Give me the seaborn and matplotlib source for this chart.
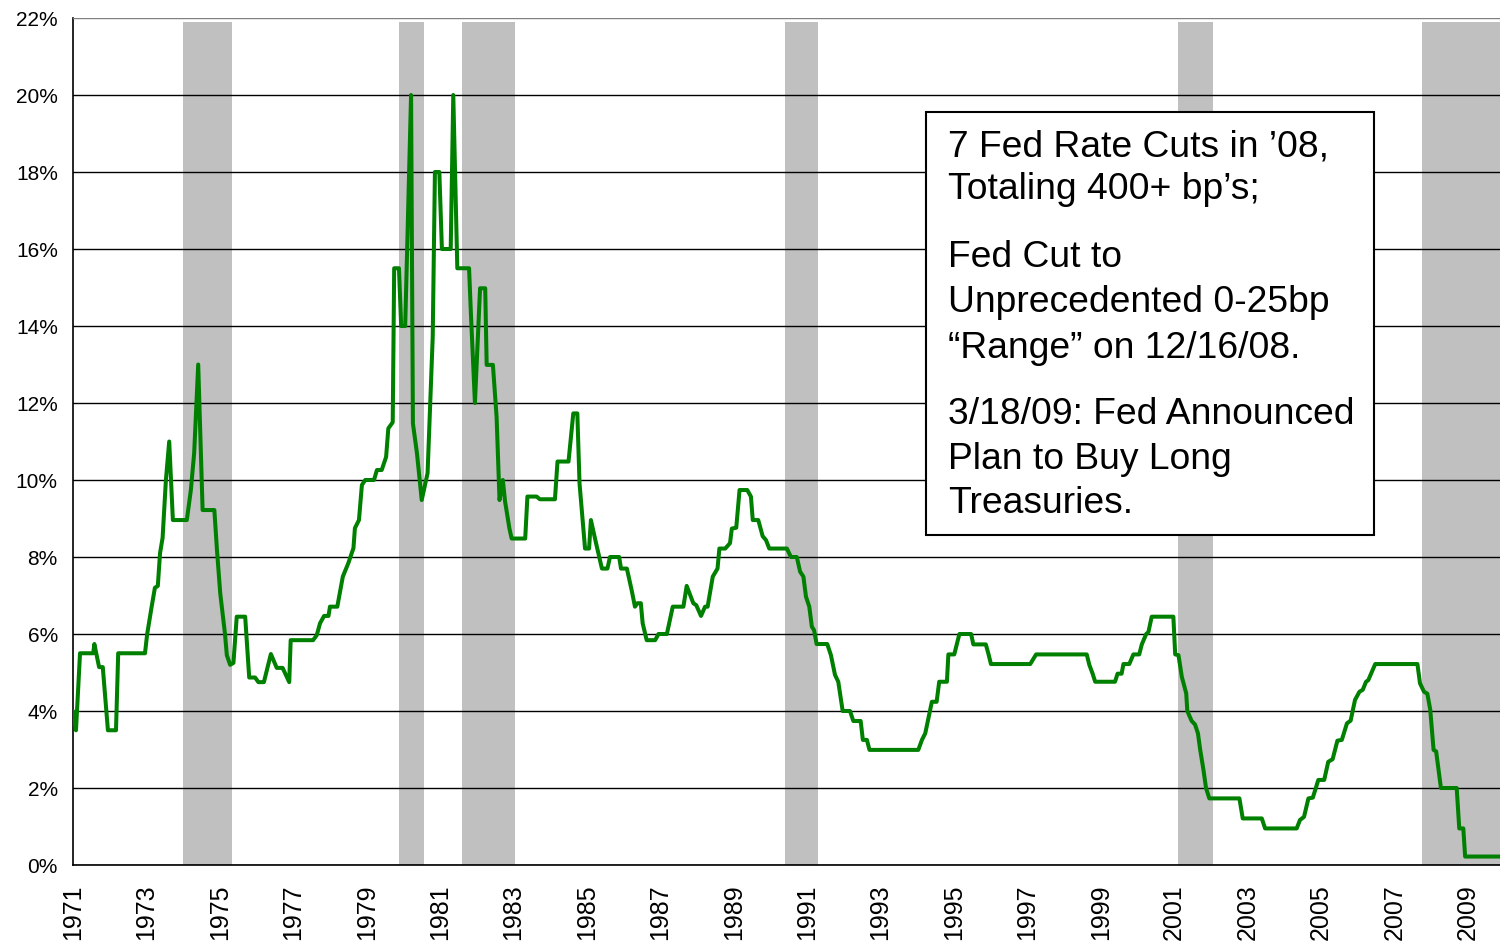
import matplotlib
matplotlib.use('Agg')
import matplotlib.pyplot as plt
import seaborn as sns
import pandas as pd
from matplotlib.patches import Rectangle

# fed funds target rate (decimal year, percent)
years = [
    1971.00, 1971.08, 1971.19, 1971.55, 1971.58, 1971.71, 1971.81, 1971.95, 1972.17, 1972.23,
    1972.96, 1973.02, 1973.14, 1973.23, 1973.31, 1973.37, 1973.44, 1973.53, 1973.62, 1973.72,
    1974.10, 1974.21, 1974.30, 1974.41, 1974.53, 1974.85, 1974.92, 1975.01, 1975.14, 1975.19,
    1975.28, 1975.37, 1975.46, 1975.69, 1975.80, 1975.96, 1976.05, 1976.20, 1976.39, 1976.55,
    1976.71, 1976.89, 1976.93, 1977.54, 1977.64, 1977.73, 1977.84, 1977.96, 1978.00, 1978.20,
    1978.35, 1978.50, 1978.64, 1978.68, 1978.79, 1978.87, 1978.96, 1979.20, 1979.28, 1979.41,
    1979.53, 1979.59, 1979.71, 1979.75, 1979.88, 1979.94, 1980.05, 1980.21, 1980.26, 1980.37,
    1980.50, 1980.66, 1980.80, 1980.86, 1980.98, 1981.05, 1981.29, 1981.36, 1981.47, 1981.79,
    1981.84, 1981.95, 1982.09, 1982.23, 1982.27, 1982.44, 1982.54, 1982.62, 1982.71, 1982.77,
    1982.89, 1982.95, 1983.32, 1983.38, 1983.63, 1983.72, 1984.13, 1984.20, 1984.50, 1984.63,
    1984.74, 1984.80, 1984.95, 1985.06, 1985.11, 1985.25, 1985.41, 1985.56, 1985.63, 1985.88,
    1985.93, 1986.09, 1986.22, 1986.31, 1986.38, 1986.47, 1986.52, 1986.63, 1986.86, 1986.95,
    1987.18, 1987.34, 1987.63, 1987.72, 1987.90, 1987.98, 1988.11, 1988.22, 1988.29, 1988.43,
    1988.56, 1988.61, 1988.77, 1988.90, 1988.95, 1989.07, 1989.16, 1989.37, 1989.47, 1989.52,
    1989.67, 1989.79, 1989.88, 1989.97, 1990.45, 1990.56, 1990.72, 1990.81, 1990.90, 1990.97,
    1991.06, 1991.13, 1991.19, 1991.26, 1991.55, 1991.65, 1991.76, 1991.85, 1991.97, 1992.17,
    1992.26, 1992.46, 1992.52, 1992.63, 1992.70, 1994.03, 1994.13, 1994.22, 1994.29, 1994.40,
    1994.53, 1994.60, 1994.81, 1994.85, 1995.01, 1995.15, 1995.47, 1995.53, 1995.87, 1995.94,
    1996.01, 1997.08, 1997.24, 1998.62, 1998.69, 1998.78, 1998.85, 1999.39, 1999.46, 1999.57,
    1999.62, 1999.78, 1999.89, 2000.05, 2000.12, 2000.24, 2000.30, 2000.39, 2000.98, 2001.03,
    2001.12, 2001.21, 2001.33, 2001.36, 2001.48, 2001.57, 2001.65, 2001.71, 2001.80, 2001.87,
    2001.96, 2002.78, 2002.87, 2003.39, 2003.48, 2004.34, 2004.43, 2004.54, 2004.66, 2004.78,
    2004.93, 2005.09, 2005.20, 2005.32, 2005.45, 2005.57, 2005.71, 2005.81, 2005.93, 2006.05,
    2006.14, 2006.23, 2006.29, 2006.48, 2007.63, 2007.70, 2007.81, 2007.90, 2007.98, 2008.07,
    2008.14, 2008.27, 2008.70, 2008.77, 2008.88, 2008.93, 2009.88,
]
rates = [
    4.00, 3.50, 5.50, 5.50, 5.74, 5.14, 5.14, 3.50, 3.50, 5.50,
    5.50, 6.00, 6.70, 7.20, 7.25, 8.10, 8.50, 10.00, 11.00, 8.96,
    8.96, 9.74, 10.70, 13.00, 9.22, 9.22, 8.20, 7.06, 6.00, 5.45,
    5.20, 5.25, 6.45, 6.45, 4.87, 4.87, 4.75, 4.75, 5.48, 5.12,
    5.12, 4.75, 5.84, 5.84, 5.97, 6.28, 6.47, 6.47, 6.71, 6.71,
    7.49, 7.84, 8.23, 8.75, 8.96, 9.87, 10.00, 10.00, 10.26, 10.26,
    10.60, 11.34, 11.50, 15.50, 15.50, 14.00, 14.00, 20.00, 11.47, 10.70,
    9.48, 10.18, 13.72, 18.00, 18.00, 16.00, 16.00, 20.00, 15.50, 15.50,
    14.33, 12.00, 14.98, 14.98, 12.99, 12.99, 11.64, 9.48, 10.00, 9.45,
    8.74, 8.48, 8.48, 9.57, 9.57, 9.50, 9.50, 10.48, 10.48, 11.73,
    11.73, 9.91, 8.22, 8.22, 8.96, 8.36, 7.70, 7.70, 8.00, 8.00,
    7.70, 7.70, 7.14, 6.71, 6.80, 6.80, 6.28, 5.84, 5.84, 6.00,
    6.00, 6.71, 6.71, 7.25, 6.80, 6.75, 6.47, 6.71, 6.71, 7.49,
    7.70, 8.22, 8.22, 8.36, 8.74, 8.76, 9.74, 9.74, 9.57, 8.96,
    8.96, 8.54, 8.44, 8.22, 8.22, 8.00, 8.00, 7.62, 7.49, 6.97,
    6.71, 6.19, 6.10, 5.74, 5.74, 5.45, 4.94, 4.76, 4.00, 4.00,
    3.74, 3.74, 3.25, 3.25, 2.99, 2.99, 3.25, 3.42, 3.74, 4.24,
    4.24, 4.76, 4.76, 5.47, 5.47, 6.00, 6.00, 5.73, 5.73, 5.49,
    5.22, 5.22, 5.47, 5.47, 5.20, 4.97, 4.76, 4.76, 4.97, 4.97,
    5.22, 5.22, 5.47, 5.47, 5.73, 6.00, 6.05, 6.45, 6.45, 5.47,
    5.45, 4.89, 4.46, 4.00, 3.74, 3.65, 3.42, 3.00, 2.47, 2.00,
    1.73, 1.73, 1.21, 1.21, 0.95, 0.95, 1.17, 1.25, 1.73, 1.75,
    2.21, 2.21, 2.68, 2.75, 3.23, 3.25, 3.68, 3.75, 4.29, 4.50,
    4.55, 4.76, 4.80, 5.22, 5.22, 4.72, 4.50, 4.45, 4.03, 2.99,
    2.95, 2.00, 2.00, 0.95, 0.95, 0.22, 0.22,
]

# recession bands (start, end)
rec_start = [1974.0, 1979.88, 1981.6, 1990.4, 2001.1, 2007.76]
rec_end = [1975.33, 1980.56, 1983.04, 1991.3, 2002.06, 2009.88]

tick_years = list(range(1971, 2010, 2))
pct_ticks = list(range(0, 23, 2))

note_1 = ["7 Fed Rate Cuts in \u201908,", "Totaling 400+ bp\u2019s;"]
note_2 = ["Fed Cut to", "Unprecedented 0-25bp", "\u201cRange\u201d on 12/16/08."]
note_3 = ["3/18/09: Fed Announced", "Plan to Buy Long", "Treasuries."]

sns.set_style('white')
plt.rcParams['font.family'] = ['Liberation Sans', 'DejaVu Sans']
plt.rcParams['text.color'] = 'black'
plt.rcParams['xtick.color'] = 'black'
plt.rcParams['ytick.color'] = 'black'

df = pd.DataFrame({'year': years, 'rate': rates})

fig = plt.figure(figsize=(15, 9.43), dpi=100)
ax = fig.add_axes([0.0487, 0.0827, 0.9513, 0.8982])

for s, e in zip(rec_start, rec_end):
    ax.axvspan(s, e, ymin=0, ymax=21.9 / 22, color='#c0c0c0', lw=0, zorder=1)

sns.lineplot(data=df, x='year', y='rate', sort=False, estimator=None,
             color='#008000', linewidth=2.9, ax=ax, zorder=3)

ax.set_xlim(1971, 2009.88)
ax.set_ylim(0, 22)
ax.set_yticks(pct_ticks)
ax.set_yticklabels([f'{v}%' for v in pct_ticks], fontsize=15)
ax.set_xticks(tick_years)
ax.set_xticklabels([str(y) for y in tick_years], rotation=90, fontsize=18)
ax.set_xlabel('')
ax.set_ylabel('')

ax.set_axisbelow(False)
ax.grid(axis='y', color='black', linewidth=1.0, zorder=2)
ax.grid(axis='x', visible=False)
ax.yaxis.get_gridlines()[-1].set_color('#808080')
for side in ['top', 'right']:
    ax.spines[side].set_visible(False)
for side in ['left', 'bottom']:
    ax.spines[side].set_color('black')
    ax.spines[side].set_linewidth(1.2)
ax.tick_params(axis='y', which='major', direction='out', length=5, width=1, color='black', pad=6)
ax.tick_params(axis='x', which='major', direction='out', length=7, width=1, color='black', pad=7)

# annotation box
ax.add_patch(Rectangle((0.598, 0.390), 0.314, 0.499, transform=ax.transAxes,
                       facecolor='white', edgecolor='black', linewidth=1.5, zorder=5))
line_y = {0: [0.848, 0.797], 1: [0.717, 0.664, 0.610], 2: [0.532, 0.479, 0.427]}
for i, para in enumerate([note_1, note_2, note_3]):
    for txt, y in zip(para, line_y[i]):
        ax.text(0.613, y, txt, transform=ax.transAxes, fontsize=26.8,
                ha='left', va='center', color='black', zorder=6)

fig.savefig('out.png', dpi=100)
